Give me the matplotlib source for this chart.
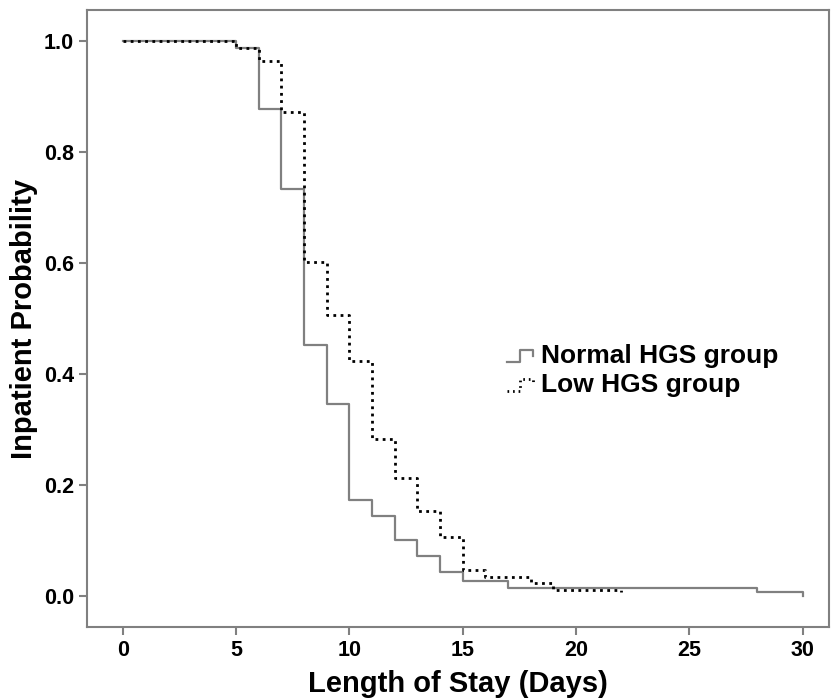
import matplotlib.pyplot as plt
from matplotlib.legend_handler import HandlerBase
from matplotlib.lines import Line2D

plt.rcParams['font.family'] = ['Liberation Sans', 'DejaVu Sans']

# Kaplan-Meier step data (day, probability after the step)
normal_days = [0, 5, 6, 7, 8, 9, 10, 11, 12, 13, 14, 15, 17, 28, 30]
normal_prob = [1.0, 0.987, 0.877, 0.733, 0.452, 0.346, 0.173, 0.144, 0.101,
               0.072, 0.043, 0.027, 0.014, 0.007, 0.0]

low_days = [0, 5, 6, 7, 8, 9, 10, 11, 12, 13, 14, 15, 16, 18, 19, 22]
low_prob = [1.0, 0.987, 0.964, 0.872, 0.602, 0.506, 0.423, 0.283, 0.213,
            0.153, 0.106, 0.047, 0.034, 0.023, 0.011, 0.007]

xticks = [0, 5, 10, 15, 20, 25, 30]
yticks = [0.0, 0.2, 0.4, 0.6, 0.8, 1.0]

gray = '#808080'


class StepHandler(HandlerBase):
    # little step glyph like the SPSS legend
    def create_artists(self, legend, orig, xd, yd, width, height, fontsize, trans):
        y0 = yd + height * 0.15
        y1 = yd + height * 0.85
        xm = xd + width * 0.5
        xs = [xd, xm, xm, xd + width, xd + width]
        ys = [y0, y0, y1, y1, (y0 + y1) / 2]
        ls = orig.get_linestyle()
        if ls != '-':
            ls = (0, (0.6, 1.4))
        ln = Line2D(xs, ys, color=orig.get_color(), linewidth=orig.get_linewidth(),
                    linestyle=ls, transform=trans)
        return [ln]


fig = plt.figure(figsize=(8.31, 6.98), dpi=100)
ax = fig.add_axes([0.1043, 0.1017, 0.893, 0.884])

l1, = ax.step(normal_days, normal_prob, where='post', color=gray, linewidth=1.6,
              label='Normal HGS group')
l2, = ax.step(low_days, low_prob, where='post', color='black', linewidth=2,
              linestyle=(0, (1, 1.6)), label='Low HGS group')

ax.set_xlim(-1.59, 31.15)
ax.set_ylim(-0.056, 1.056)
ax.set_xticks(xticks)
ax.set_yticks(yticks)
ax.set_yticklabels(['%.1f' % v for v in yticks])

for s in ax.spines.values():
    s.set_color(gray)
    s.set_linewidth(1.5)
ax.tick_params(direction='out', length=6, width=1.5, color=gray,
               labelsize=15.5, pad=3)
for lab in ax.get_xticklabels() + ax.get_yticklabels():
    lab.set_fontweight('bold')

ax.set_xlabel('Length of Stay (Days)', fontsize=21, fontweight='bold', labelpad=7)
ax.set_ylabel('Inpatient Probability', fontsize=21, fontweight='bold', labelpad=4)

leg = ax.legend(handles=[l1, l2], loc='upper left', bbox_to_anchor=(0.535, 0.497),
                frameon=False, handler_map={Line2D: StepHandler()},
                handlelength=0.95, handleheight=0.6, handletextpad=0.34,
                labelspacing=0.2, prop={'size': 19, 'weight': 'bold'})

fig.savefig('out.png', dpi=100)
